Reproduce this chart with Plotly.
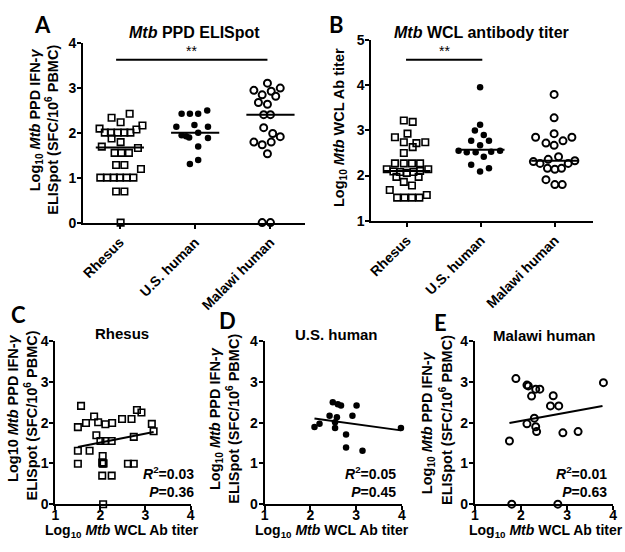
import plotly.graph_objects as go

# --- dados ---
groups = ['Rhesus', 'U.S. human', 'Malawi human']

# Painel A: Log10 Mtb PPD IFN-g ELISpot (valor, deslocamento horizontal dentro do grupo)
rh_a_val = [2.42, 2.33, 2.23, 2.09, 2.0, 2.0, 2.0, 2.0, 2.0, 2.07, 2.16, 1.87, 1.79, 1.69, 1.66,
            1.55, 1.55, 1.55, 1.28, 1.28, 1.19, 1.0, 1.0, 1.0, 1.0, 1.0, 1.0, 0.69, 0.69, 0.0]
rh_a_off = [0.13, -0.11, 0.01, -0.27, -0.2, -0.12, -0.03, 0.06, 0.14, 0.22, 0.3, -0.11, 0.01, -0.24, 0.24,
            -0.07, 0.02, 0.12, -0.05, 0.06, 0.28, -0.26, -0.17, -0.08, 0.0, 0.09, 0.18, -0.05, 0.06, 0.01]
us_a_val = [2.42, 2.42, 2.42, 2.49, 2.13, 2.17, 2.13, 1.94, 1.92, 1.89, 2.0, 1.88, 1.69, 1.30, 1.39]
us_a_off = [-0.18, -0.07, 0.04, 0.16, -0.25, -0.01, 0.17, -0.18, -0.12, -0.08, 0.04, 0.17, 0.04, -0.07, 0.04]
mw_a_val = [3.10, 2.94, 2.84, 2.92, 2.81, 2.99, 2.67, 2.63, 2.40, 2.40, 2.11, 1.98, 1.91, 1.79, 1.73,
            1.79, 1.53, 0.0, 0.0]
mw_a_off = [-0.04, -0.22, -0.11, 0.01, 0.07, 0.13, -0.16, -0.04, -0.09, 0.0, -0.09, 0.03, 0.13, -0.22, -0.11,
            0.01, -0.04, -0.11, 0.0]
med_a = [1.67, 2.0, 2.40]

# Painel B: Log10 Mtb WCL Ab titer
rh_b_val = [3.22, 3.19, 2.85, 2.93, 2.74, 2.72, 2.74, 2.63, 2.50, 2.27, 2.27, 2.27, 2.27, 2.14, 2.09,
            2.08, 2.06, 2.08, 2.10, 2.14, 1.97, 1.97, 1.86, 1.78, 1.68, 1.51, 1.51, 1.51, 1.51, 1.57]
rh_b_off = [-0.04, 0.08, -0.16, 0.01, -0.04, 0.13, 0.25, 0.08, -0.04, -0.16, -0.04, 0.07, 0.18, -0.27, -0.18,
            -0.09, 0.0, 0.09, 0.18, 0.29, -0.14, 0.16, -0.04, 0.07, -0.23, -0.13, -0.03, 0.07, 0.17, 0.27]
us_b_val = [3.96, 3.13, 3.00, 2.90, 2.77, 2.77, 2.67, 2.55, 2.52, 2.52, 2.53, 2.55, 2.42, 2.24, 2.09, 2.16]
us_b_off = [-0.01, -0.01, -0.08, 0.04, -0.13, 0.11, -0.01, -0.30, -0.19, -0.07, 0.14, 0.26, 0.04, -0.13, -0.01, 0.11]
mw_b_val = [3.80, 3.28, 2.93, 2.85, 2.72, 2.67, 2.77, 2.85, 2.31, 2.27, 2.36, 2.42, 2.27, 2.33,
            2.16, 2.14, 2.16, 1.91, 1.80, 1.80]
mw_b_off = [-0.01, -0.01, -0.01, -0.26, -0.12, -0.01, 0.11, 0.23, -0.29, -0.20, -0.09, 0.05, 0.18, 0.27,
            -0.10, 0.0, 0.09, -0.12, 0.0, 0.10]
med_b = [2.10, 2.57, 2.33]

# comparações significativas (de, até, altura)
sig_a = [-0.05, 1.96, 3.62]
sig_b = [-0.01, 1.02, 4.57]

# Painéis C-E: titer (x) vs ELISpot (y)
c_x = [1.57, 1.50, 1.68, 1.86, 1.95, 1.91, 2.11, 2.26, 2.48, 2.69, 2.81, 2.91, 3.14, 3.18, 2.74,
       2.00, 2.11, 2.25, 1.50, 1.76, 1.50, 2.05, 2.04, 2.05, 2.61, 2.74, 2.04, 2.25, 2.06, 2.07]
c_y = [2.41, 1.89, 1.99, 2.15, 2.01, 1.69, 1.96, 1.99, 2.09, 2.09, 2.31, 2.25, 1.97, 1.79, 1.65,
       1.55, 1.55, 1.55, 1.31, 1.31, 0.99, 1.18, 1.02, 0.99, 0.99, 0.99, 0.70, 0.70, 0.0, 1.0]
c_fit_x = [1.50, 3.18]
c_fit_y = [1.40, 1.77]

d_x = [2.09, 2.20, 2.42, 2.49, 2.60, 2.67, 2.58, 2.54, 2.54, 2.92, 3.01, 2.78, 2.78, 3.14, 3.98]
d_y = [1.89, 1.97, 2.17, 2.50, 2.45, 2.42, 2.13, 2.01, 1.87, 2.17, 2.42, 1.71, 1.39, 1.31, 1.87]
d_fit_x = [2.09, 3.98]
d_fit_y = [2.10, 1.81]

e_x = [1.89, 2.13, 2.16, 2.23, 2.32, 2.41, 2.70, 2.64, 2.82, 2.29, 2.13, 2.32, 2.34, 2.91, 3.24,
       1.75, 3.79, 1.80, 2.80]
e_y = [3.08, 2.92, 2.90, 2.65, 2.82, 2.82, 2.66, 2.41, 2.41, 2.11, 1.97, 1.90, 1.78, 1.75, 1.78,
       1.55, 2.98, 0.0, 0.0]
e_fit_x = [1.75, 3.77]
e_fit_y = [1.99, 2.41]

stats_c = ['0.03', '0.36']
stats_d = ['0.05', '0.45']
stats_e = ['0.01', '0.63']

# --- estilo ---
FONT = 'Arial, Liberation Sans, sans-serif'
W, H = 625, 552


def px(x):
    return x / W


def py(y):
    return 1 - y / H


fig = go.Figure()

sym = {'Rhesus': ('square-open', 6.5, 1.6), 'U.S. human': ('circle', 6.5, 0), 'Malawi human': ('circle-open', 7, 2)}


def add_group(vals, offs, gi, ax):
    s, size, lw = sym[groups[gi]]
    fig.add_trace(go.Scatter(
        x=[gi + o for o in offs], y=vals, mode='markers', xaxis='x' + ax, yaxis='y' + ax,
        marker=dict(symbol=s, size=size, color='black', line=dict(color='black', width=lw)),
        cliponaxis=False, showlegend=False, hoverinfo='skip'))


def add_median(m, gi, ax):
    fig.add_trace(go.Scatter(x=[gi - 0.32, gi + 0.32], y=[m, m], mode='lines', xaxis='x' + ax, yaxis='y' + ax,
                             line=dict(color='black', width=2), showlegend=False, hoverinfo='skip'))


# Painel A
add_group(rh_a_val, rh_a_off, 0, '')
add_group(us_a_val, us_a_off, 1, '')
add_group(mw_a_val, mw_a_off, 2, '')
for i, m in enumerate(med_a):
    add_median(m, i, '')
# Painel B
add_group(rh_b_val, rh_b_off, 0, '2')
add_group(us_b_val, us_b_off, 1, '2')
add_group(mw_b_val, mw_b_off, 2, '2')
for i, m in enumerate(med_b):
    add_median(m, i, '2')

for sig, ax in [(sig_a, ''), (sig_b, '2')]:
    fig.add_trace(go.Scatter(x=sig[:2], y=[sig[2], sig[2]], mode='lines', xaxis='x' + ax, yaxis='y' + ax,
                             line=dict(color='black', width=2), showlegend=False, hoverinfo='skip'))
    fig.add_annotation(x=(sig[0] + sig[1]) / 2, y=sig[2], xref='x' + ax, yref='y' + ax, text='**',
                       showarrow=False, yanchor='bottom', yshift=-1, font=dict(family=FONT, size=14, color='black'))

# Painéis C-E
scatter_panels = [
    ('3', c_x, c_y, c_fit_x, c_fit_y, 'square-open', 6.5, 1.6),
    ('4', d_x, d_y, d_fit_x, d_fit_y, 'circle', 6.5, 0),
    ('5', e_x, e_y, e_fit_x, e_fit_y, 'circle-open', 7, 2),
]
for ax, xs, ys, fx, fy, s, size, lw in scatter_panels:
    fig.add_trace(go.Scatter(x=xs, y=ys, mode='markers', xaxis='x' + ax, yaxis='y' + ax,
                             marker=dict(symbol=s, size=size, color='black', line=dict(color='black', width=lw)),
                             cliponaxis=False, showlegend=False, hoverinfo='skip'))
    fig.add_trace(go.Scatter(x=fx, y=fy, mode='lines', xaxis='x' + ax, yaxis='y' + ax,
                             line=dict(color='black', width=2), showlegend=False, hoverinfo='skip'))

axis_common = dict(showline=True, linecolor='black', linewidth=2, ticks='outside', ticklen=4, tickwidth=2,
                   tickcolor='black', showgrid=False, zeroline=False, fixedrange=True,
                   tickfont=dict(family=FONT, size=14, color='black', weight='bold'))

cat_x = dict(axis_common, tickmode='array', tickvals=[0, 1, 2], ticktext=groups, tickangle=-45,
             tickfont=dict(family=FONT, size=14, color='black', weight='bold'))
lin_y4 = dict(axis_common, range=[0, 4], tickvals=[0, 1, 2, 3, 4], ticklabelstandoff=-2)
lin_x4 = dict(axis_common, range=[1, 4], tickvals=[1, 2, 3, 4], ticklabelstandoff=-7)

fig.update_layout(
    width=W, height=H, margin=dict(l=0, r=0, t=0, b=0),
    paper_bgcolor='white', plot_bgcolor='white',
    xaxis=dict(cat_x, domain=[px(80), px(305)], range=[-0.49, 2.46], anchor='y'),
    yaxis=dict(lin_y4, domain=[py(221), py(35.7)], anchor='x'),
    xaxis2=dict(cat_x, domain=[px(372), px(597)], range=[-0.48, 2.52], anchor='y2'),
    yaxis2=dict(axis_common, range=[1, 5], tickvals=[1, 2, 3, 4, 5], ticklabelstandoff=-2,
                domain=[py(219), py(33.3)], anchor='x2'),
    xaxis3=dict(lin_x4, domain=[px(52), px(189)], anchor='y3'),
    yaxis3=dict(lin_y4, domain=[py(511), py(343)], anchor='x3'),
    xaxis4=dict(lin_x4, domain=[px(264), px(403)], anchor='y4'),
    yaxis4=dict(lin_y4, domain=[py(511), py(343)], anchor='x4'),
    xaxis5=dict(lin_x4, domain=[px(477), px(617)], anchor='y5'),
    yaxis5=dict(lin_y4, domain=[py(511), py(343)], anchor='x5'),
)


def note(x, y, text, size=15, angle=0, xanchor='center', family=FONT, align='center'):
    fig.add_annotation(x=px(x), y=py(y), xref='paper', yref='paper', text=text, showarrow=False,
                       textangle=angle, xanchor=xanchor, yanchor='middle', align=align,
                       font=dict(family=family, size=size, color='black', weight='bold'))


# letras dos painéis
for lbl, x, y in [('A', 39, 17), ('B', 337, 17), ('C', 15, 316), ('D', 226, 322), ('E', 442, 324)]:
    note(x, y, lbl, size=22, family='Lato, Open Sans, sans-serif')

# títulos
note(193, 25, '<i>Mtb</i> PPD ELISpot', size=16)
note(484, 25, '<i>Mtb</i> WCL antibody titer', size=16)
note(120, 335, 'Rhesus', size=15)
note(337, 336, 'U.S. human', size=15)
note(548, 337, 'Malawi human', size=15)

# títulos dos eixos (cada linha separada para controlar o espaçamento)
eli1 = 'Log<sub>10</sub> <i>Mtb</i> PPD IFN-<i>γ</i>'
eli2 = 'ELISpot (SFC/10<sup>6</sup> PBMC)'
dx = -6  # o texto girado sai deslocado para a direita
for (x1, y1), (x2, y2), l1 in [((38, 115), (55, 125), eli1),
                               ((15, 412), (33, 420), 'Log10 <i>Mtb</i> PPD IFN-<i>γ</i>'),
                               ((220, 423), (238, 423), eli1),
                               ((435, 427), (453, 424), eli1)]:
    note(x1 + dx, y1, l1, size=14.5, angle=-90)
    note(x2 + dx, y2, eli2, size=14.5, angle=-90)
note(347 + dx, 123, 'Log<sub>10</sub> <i>Mtb</i> WCL Ab titer', size=14.5, angle=-90)
wcl = 'Log<sub>10</sub> <i>Mtb</i> WCL Ab titer'
note(120, 539, wcl, size=14)
note(332, 539, wcl, size=14)
note(549, 539, wcl, size=14)

# R2 / P
for xr, st in [(194, stats_c), (399, stats_d), (613, stats_e)]:
    note(xr, 488, '<i>R</i><sup>2</sup>=' + st[0] + '<br><i>P</i>=' + st[1], size=14, xanchor='right', align='right')

# remove a margem padrão do <body> para que a figura fique alinhada ao canto da janela
fig.write_html("out.html", config={'displayModeBar': False},
               post_script="document.body.style.margin='0';document.body.style.overflow='hidden';")
